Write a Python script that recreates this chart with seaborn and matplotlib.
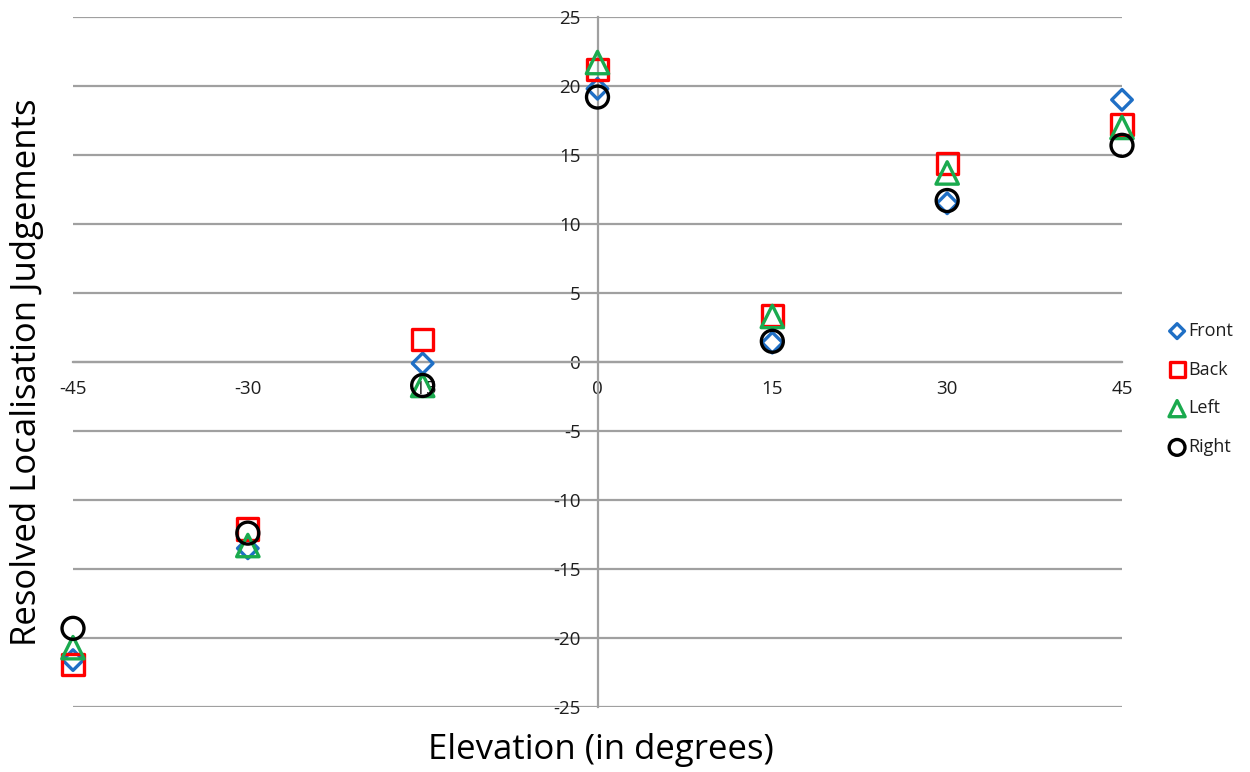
import matplotlib
matplotlib.use("Agg")
import matplotlib.pyplot as plt
import seaborn as sns
import pandas as pd

# Elevation angles (degrees) and resolved localisation judgements per source position
elevation = [-45, -30, -15, 0, 15, 30, 45]
front = [-21.6, -13.5, -0.1, 19.8, 1.4, 11.5, 19.0]
back = [-21.9, -12.1, 1.6, 21.2, 3.4, 14.4, 17.2]
left = [-20.7, -13.3, -1.7, 21.7, 3.3, 13.7, 17.0]
right = [-19.3, -12.4, -1.7, 19.2, 1.5, 11.7, 15.7]

series_names = ["Front", "Back", "Left", "Right"]
series_values = [front, back, left, right]
x_ticks = [-45, -30, -15, 0, 15, 30, 45]
y_ticks = list(range(-25, 26, 5))

styles = {
    "Front": dict(marker="D", s=110, color="#1F6FC5"),
    "Back": dict(marker="s", s=230, color="#FF0000"),
    "Left": dict(marker="^", s=260, color="#1AAA4E"),
    "Right": dict(marker="o", s=250, color="#000000"),
}

sns.set_theme(style="white")
plt.rcParams["font.family"] = ["Open Sans", "DejaVu Sans"]

fig = plt.figure(figsize=(12.5, 7.72), dpi=100)
ax = fig.add_axes([73 / 1250, 1 - 707 / 772, (1122 - 73) / 1250, 690 / 772])

for name, vals in zip(series_names, series_values):
    df = pd.DataFrame({"Elevation": elevation, "Judgement": vals})
    st = styles[name]
    sns.scatterplot(
        data=df, x="Elevation", y="Judgement", ax=ax,
        marker=st["marker"], s=st["s"], color=st["color"],
        facecolor="none", edgecolor=st["color"], linewidth=2.4,
        label=name, zorder=3, clip_on=False,
    )

ax.set_xlim(-45, 45)
ax.set_ylim(-25, 25)
ax.set_xticks(x_ticks)
ax.set_yticks(y_ticks)
ax.set_xticklabels([str(t) for t in x_ticks])
ax.set_yticklabels([str(t) for t in y_ticks])

# Axes cross at the origin, horizontal gridlines only
ax.spines["left"].set_position(("data", 0))
ax.spines["bottom"].set_position(("data", 0))
for side in ["top", "right"]:
    ax.spines[side].set_visible(False)
for side in ["left", "bottom"]:
    ax.spines[side].set_color("#A0A0A0")
    ax.spines[side].set_linewidth(1.6)
ax.yaxis.grid(True, color="#A0A0A0", linewidth=1.6, zorder=0)
ax.xaxis.grid(False)
ax.set_axisbelow(True)
ax.tick_params(axis="both", length=0, labelsize=13.5, colors="#1E1E1E")
ax.tick_params(axis="y", pad=12)
ax.tick_params(axis="x", pad=13)
ax.set_facecolor("none")

ax.set_xlabel("")
ax.set_ylabel("")
fig.text(0.481, 0.028, "Elevation (in degrees)", ha="center", va="center",
         fontsize=25, color="#000000")
fig.text(0.022, 0.518, "Resolved Localisation Judgements", ha="center", va="center",
         rotation=90, fontsize=25, color="#000000")

leg = ax.legend(loc="center left", bbox_to_anchor=(1150 / 1250, 1 - 389 / 772),
                bbox_transform=fig.transFigure, frameon=False, fontsize=13,
                labelspacing=1.15, handletextpad=0.0, markerscale=0.72,
                handlelength=1.2)
for txt in leg.get_texts():
    txt.set_color("#1E1E1E")

fig.savefig("out.png", dpi=100)
